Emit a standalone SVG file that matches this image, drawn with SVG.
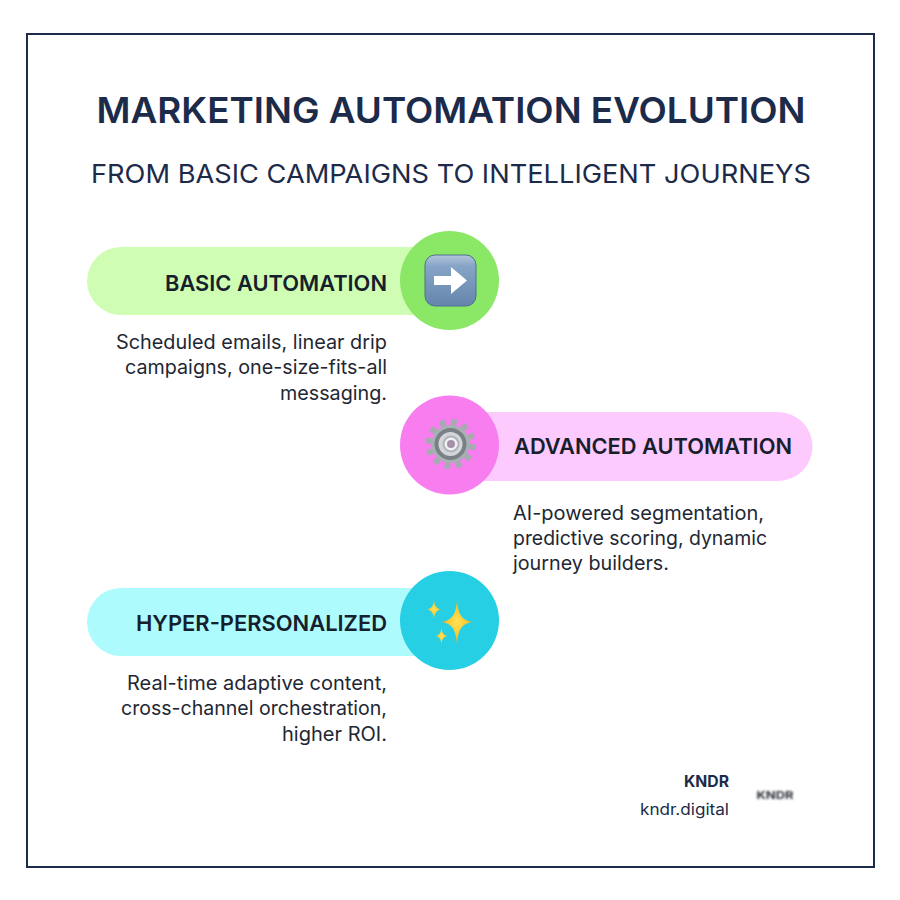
<svg xmlns="http://www.w3.org/2000/svg" width="900" height="900" viewBox="0 0 900 900">
<style>
text{font-family:"Inter","Liberation Sans",sans-serif;fill:#1c2b4a}
.t{font-size:36px;font-weight:600;text-anchor:middle}
.s{font-size:26px;font-weight:400;text-anchor:middle}
.h{font-size:22px;font-weight:600;fill:#16202c}
.d{font-size:19.5px;font-weight:400;fill:#1e2733}
.e{text-anchor:end}
</style>
<defs>
<linearGradient id="btn" x1="0" y1="0" x2="0" y2="1"><stop offset="0" stop-color="#b4c6da"/><stop offset=".22" stop-color="#86a4c6"/><stop offset="1" stop-color="#6585ab"/></linearGradient>
<radialGradient id="spark"><stop offset="0" stop-color="#ffe25a"/><stop offset=".6" stop-color="#fdc92e"/><stop offset="1" stop-color="#f0a020"/></radialGradient>
<filter id="blur" x="-20%" y="-60%" width="140%" height="220%"><feGaussianBlur stdDeviation="1 0.8"/></filter>
<path id="star" d="M0-1C.08-.3.3-.08 1 0 .3.08.08.3 0 1-.08.3-.3.08-1 0-.3-.08-.08-.3 0-1Z" fill="url(#spark)"/>
</defs>
<rect width="900" height="900" fill="#fff"/>
<rect x="27" y="34" width="847" height="833" fill="#fff" stroke="#1c2b4a" stroke-width="2"/>
<g id="title">
<text class="t" x="451" y="123" textLength="709" lengthAdjust="spacingAndGlyphs">MARKETING AUTOMATION EVOLUTION</text>
<text class="s" x="451" y="183" textLength="720" lengthAdjust="spacingAndGlyphs">FROM BASIC CAMPAIGNS TO INTELLIGENT JOURNEYS</text>
</g>
<g id="connectors"></g>
<g id="node-basic">
<path d="M121 247H450V315H121A34 34 0 0 1 121 247Z" fill="#d0fdb4"/>
<circle cx="449.500" cy="280.500" r="49.500" fill="#8ae866"/>
<rect x="425" y="255" width="51" height="51" rx="10" fill="url(#btn)" stroke="#4f6f96" stroke-width="1"/>
<path d="M434 276H451V267L467 280.500 451 294V285H434Z" fill="#fff"/>
<text class="h e" x="387" y="291" textLength="222" lengthAdjust="spacingAndGlyphs">BASIC AUTOMATION</text>
<text class="d e" x="387" y="349" textLength="271" lengthAdjust="spacingAndGlyphs">Scheduled emails, linear drip</text>
<text class="d e" x="387" y="374" textLength="262" lengthAdjust="spacingAndGlyphs">campaigns, one-size-fits-all</text>
<text class="d e" x="387" y="400" textLength="107" lengthAdjust="spacingAndGlyphs">messaging.</text>
</g>
<g id="node-advanced">
<path d="M450 412H778A34.500 34.500 0 0 1 778 481H450Z" fill="#fdcafd"/>
<circle cx="449.500" cy="445" r="49.500" fill="#f87ef0"/>
<circle cx="450.500" cy="444" r="21.500" fill="none" stroke="#a4acb0" stroke-width="7" stroke-dasharray="5.500 5.760"/>
<circle cx="450.500" cy="444" r="19" fill="#a9b0b3"/>
<circle cx="450.500" cy="444" r="14" fill="#d3d6d8" stroke="#7a8186" stroke-width="4"/>
<circle cx="451" cy="444" r="7.500" fill="#f0f1f2" stroke="#b0b4b8" stroke-width="2"/>
<circle cx="451" cy="444" r="4" fill="#a592aa"/>
<text class="h" x="514" y="454" textLength="278" lengthAdjust="spacingAndGlyphs">ADVANCED AUTOMATION</text>
<text class="d" x="513" y="520" textLength="251" lengthAdjust="spacingAndGlyphs">AI-powered segmentation,</text>
<text class="d" x="513" y="545" textLength="254" lengthAdjust="spacingAndGlyphs">predictive scoring, dynamic</text>
<text class="d" x="513" y="570" textLength="156" lengthAdjust="spacingAndGlyphs">journey builders.</text>
</g>
<g id="node-hyper">
<path d="M121 588H450V656H121A34 34 0 0 1 121 588Z" fill="#aefbfd"/>
<circle cx="449.500" cy="620.500" r="49.500" fill="#26cfe4"/>
<use href="#star" transform="translate(457 622) scale(16 22)"/>
<use href="#star" transform="translate(434 609.500) scale(7.500 10)"/>
<use href="#star" transform="translate(441.500 636) scale(6.500 9)"/>
<text class="h e" x="387" y="631" textLength="251" lengthAdjust="spacingAndGlyphs">HYPER-PERSONALIZED</text>
<text class="d e" x="387" y="690" textLength="260" lengthAdjust="spacingAndGlyphs">Real-time adaptive content,</text>
<text class="d e" x="387" y="715" textLength="266" lengthAdjust="spacingAndGlyphs">cross-channel orchestration,</text>
<text class="d e" x="387" y="741" textLength="105" lengthAdjust="spacingAndGlyphs">higher ROI.</text>
</g>
<g id="brand">
<text x="729" y="787" font-size="15.500" font-weight="700" text-anchor="end" textLength="45" lengthAdjust="spacingAndGlyphs">KNDR</text>
<text x="729" y="815" font-size="16" text-anchor="end" textLength="89" lengthAdjust="spacingAndGlyphs">kndr.digital</text>
<g filter="url(#blur)"><text x="775" y="799" font-size="10" font-weight="700" text-anchor="middle" textLength="37" lengthAdjust="spacingAndGlyphs" style="fill:#2a2f38">KNDR</text></g>
</g>
</svg>
